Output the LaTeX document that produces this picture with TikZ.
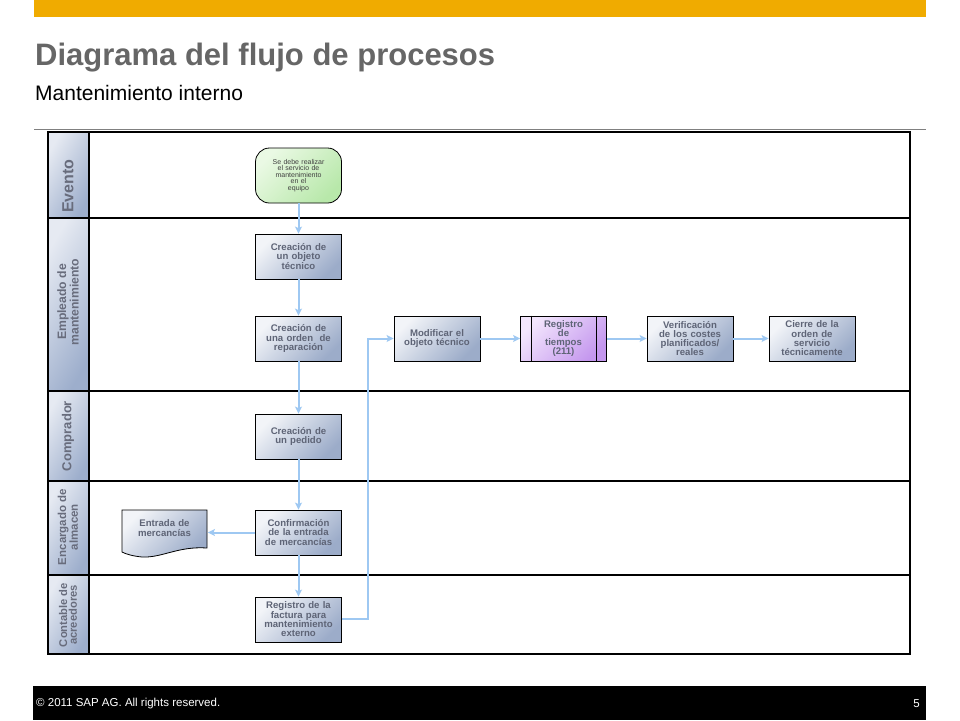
\documentclass[tikz,border=0pt]{standalone}
\usepackage{fontspec}
\setmainfont{Liberation Sans}
\usetikzlibrary{arrows.meta,calc}
\definecolor{sapor}{HTML}{F0AB00}
\definecolor{titlegray}{HTML}{666666}
\definecolor{boxtext}{HTML}{5E6476}
\definecolor{lanetext}{HTML}{686C7C}
\definecolor{boxlight}{HTML}{F2F4F8}
\definecolor{boxdark}{HTML}{9CACC9}
\definecolor{lanelight}{HTML}{E6EAF2}
\definecolor{lanedark}{HTML}{9DAECC}
\definecolor{evlight}{HTML}{EAF9E4}
\definecolor{evdark}{HTML}{B8E8AA}
\definecolor{purlight}{HTML}{F3E6FD}
\definecolor{purdark}{HTML}{C497EE}
\definecolor{arrowblue}{HTML}{9EC8F2}
\tikzset{
  procbox/.style={draw=black, line width=0.8pt, minimum width=85pt, minimum height=45pt,
    inner sep=1pt, text width=84pt, align=center, text=boxtext,
    font=\bfseries\fontsize{9.6}{9.3}\selectfont,
    top color=boxlight, bottom color=boxdark, shading angle=45},
  evbox/.style={procbox, rounded corners=14pt, top color=evlight, bottom color=evdark,
    shading angle=45, font=\fontsize{7}{6.4}\selectfont, text=black!75, minimum height=55pt},
  purbox/.style={procbox, top color=purlight, bottom color=purdark, shading angle=45},
  lanehead/.style={top color=lanelight, bottom color=lanedark, shading angle=60},
  lanelabel/.style={rotate=90, align=center, text=lanetext, inner sep=0pt},
  conn/.style={draw=arrowblue, line width=2pt, -{Stealth[length=7pt,width=7pt,inset=1.5pt]}},
}
\begin{document}
\begin{tikzpicture}[x=1pt,y=-1pt]
\useasboundingbox (0,0) rectangle (960,720);
\fill[white] (0,0) rectangle (960,720);
% header
\fill[sapor] (34,0) rectangle (926,17);
\node[anchor=base west, inner sep=0, text=titlegray, font=\bfseries\fontsize{31}{34}\selectfont] (title) at (35,65) {Diagrama del flujo de procesos};
\node[anchor=base west, inner sep=0, font=\fontsize{21}{24}\selectfont] (subtitle) at (35,100) {Mantenimiento interno};
\draw[gray, line width=1pt] (34,129.5) -- (926,129.5);
% lane headers
\shade[lanehead] (48,132) rectangle (89,218);
\shade[lanehead] (48,218) rectangle (89,391);
\shade[lanehead] (48,391) rectangle (89,481);
\shade[lanehead] (48,481) rectangle (89,575);
\shade[lanehead] (48,575) rectangle (89,654);
\node[lanelabel, font=\bfseries\fontsize{16}{16}\selectfont] (l1) at (68,186) {Evento};
\node[lanelabel, font=\bfseries\fontsize{12.2}{10.5}\selectfont] (l2) at (68,302) {Empleado de\\mantenimiento};
\node[lanelabel, font=\bfseries\fontsize{13}{12}\selectfont] (l3) at (68,436) {Comprador};
\node[lanelabel, font=\bfseries\fontsize{11.5}{10}\selectfont] (l4) at (68,527) {Encargado de\\almacen};
\node[lanelabel, font=\bfseries\fontsize{11.2}{9.6}\selectfont] (l5) at (68,615) {Contable de\\acreedores};
% frame
\draw[line width=2pt] (48,132) rectangle (910,654);
\draw[line width=1.5pt] (89,132) -- (89,654);
\foreach \yy in {218,391,481,575} \draw[line width=2.5pt] (48,\yy) -- (910,\yy);
% nodes
\node[evbox] (ev) at (298.5,175.5) {Se debe realizar\\el servicio de\\mantenimiento\\en el\\equipo};
\node[procbox] (obj) at (298.5,256.5) {Creación de\\un objeto\\técnico};
\node[procbox] (ord) at (298.5,338.5) {Creación de\\una orden~ de\\reparación};
\node[procbox] (mod) at (437,338.5) {Modificar el\\objeto técnico};
\node[purbox] (reg) at (563.5,338.5) {Registro\\de\\tiempos\\(211)};
\draw[line width=0.8pt] ($(reg.north west)+(11,0)$) -- ($(reg.south west)+(11,0)$);
\draw[line width=0.8pt] ($(reg.north east)+(-11,0)$) -- ($(reg.south east)+(-11,0)$);
\node[procbox] (ver) at (690,338.5) {Verificación\\de los costes\\planificados/\\reales};
\node[procbox] (cie) at (812,338.5) {Cierre de la\\orden de\\servicio\\técnicamente};
\node[procbox] (ped) at (298.5,436.5) {Creación de\\un pedido};
\node[procbox] (conf) at (298.5,532.5) {Confirmación\\de la entrada\\de mercancías};
\node[procbox] (fac) at (298.5,619.5) {Registro de la\\factura para\\mantenimiento\\externo};
% document shape
\shade[draw=black, line width=0.8pt, top color=boxlight, bottom color=boxdark, shading angle=45]
  (122,510) -- (207,510) -- (207,548) .. controls (178,546) and (162,558) .. (142,557)
  .. controls (132,556) and (126,554) .. (122,552) -- cycle;
\node[procbox, draw=none, shading=axis, top color=boxlight, bottom color=boxlight, opacity=0, text opacity=1] (ent) at (164.5,528) {Entrada de\\mercancías};
% connectors
\draw[conn] (ev) -- (obj);
\draw[conn] (obj) -- (ord);
\draw[conn] (ord) -- (ped);
\draw[conn] (ped) -- (conf);
\draw[conn] (conf.west) -- (conf.west -| ent.east);
\draw[conn] (conf) -- (fac);
\coordinate (turn) at (368,338.5);
\draw[conn] ($(fac.east)+(0,-1)$) -| (turn) -- (mod.west);
\draw[conn] (mod) -- (reg);
\draw[conn] (reg) -- (ver);
\draw[conn] (ver) -- (cie);
% footer
\fill[black] (33,686) rectangle (926,720);
\node[anchor=west, text=white, inner sep=0, font=\fontsize{11.5}{13}\selectfont] (copy) at (36,704) {© 2011 SAP AG. All rights reserved.};
\node[anchor=east, text=white, inner sep=0, font=\fontsize{11.5}{13}\selectfont] (page) at (920,704) {5};
\end{tikzpicture}
\end{document}
